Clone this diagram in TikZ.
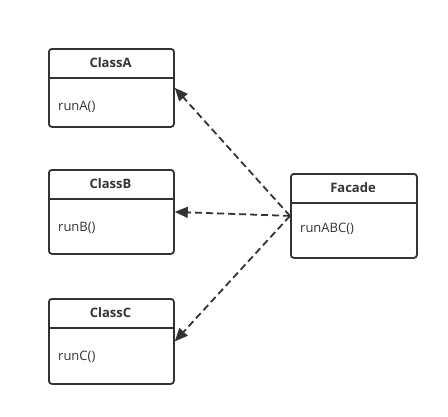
\documentclass[tikz,border=0pt]{standalone}
\usepackage{fontspec}
\setmainfont{Open Sans}
\usetikzlibrary{arrows.meta}
\definecolor{umlgray}{HTML}{333333}
\begin{document}
\begin{tikzpicture}[x=1pt, y=-1pt, >={Triangle[length=13pt,width=11pt]},
    box/.style={draw=umlgray, line width=1.8pt, rounded corners=3pt, minimum width=125pt, inner sep=0pt, anchor=north west},
    title/.style={font=\fontsize{13}{15}\selectfont\bfseries, text=umlgray},
    method/.style={font=\fontsize{13}{15}\selectfont, text=umlgray, anchor=west, inner sep=0pt},
    dep/.style={->, draw=umlgray, line width=1.8pt, dash pattern=on 7pt off 4pt}]
\useasboundingbox (0,0) rectangle (448,416);

% the three classes
\foreach \n/\t/\h in {A/48/78, B/169/84, C/298/85}
{
    \node[box, minimum height=\h pt] (class\n) at (48,\t) {};
    \draw[umlgray, line width=1.8pt] ([yshift=-30pt]class\n.north west) -- ([yshift=-30pt]class\n.north east);
    \node[title] (title\n) at (110.5,\t+15) {Class\n};
    \node[method] (run\n) at (58,\t+59) {run\n()};
}

% facade
\node[box, minimum height=84pt, minimum width=126pt] (facade) at (290,173) {};
\draw[umlgray, line width=1.8pt] ([yshift=-30pt]facade.north west) -- ([yshift=-30pt]facade.north east);
\node[title] (titleF) at (353,188) {Facade};
\node[method] (runF) at (300,229) {runABC()};

\foreach \n in {A,B,C}
{
    \draw[dep] (facade.west) -- (class\n.east);
}

\end{tikzpicture}
\end{document}
